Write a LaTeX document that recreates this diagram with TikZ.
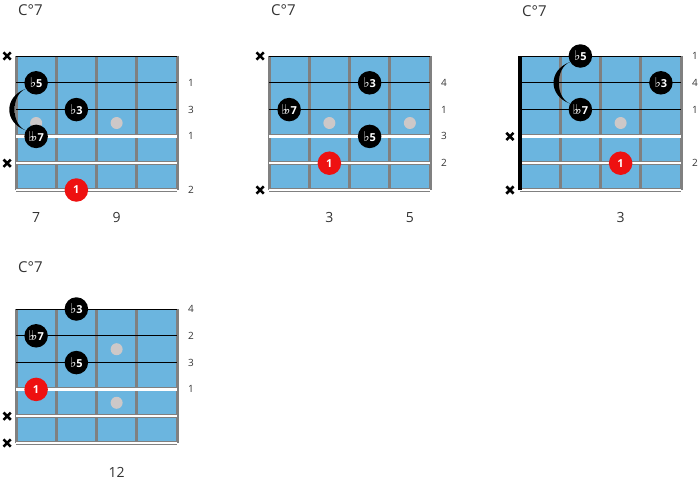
\documentclass[tikz,border=0pt]{standalone}
\usepackage{fontspec}
\setmainfont{Open Sans}
\newfontfamily\symfont{DejaVu Sans}
\definecolor{boardblue}{HTML}{6BB5DF}
\definecolor{fretgray}{HTML}{808080}
\definecolor{inlaygray}{HTML}{CDC8C8}
\definecolor{rootred}{HTML}{EE1111}
\definecolor{labelgray}{HTML}{333333}
\newcommand{\fl}{{\symfont\bfseries\fontsize{13.5}{13.5}\selectfont\char"266D}}
\newcommand{\dfl}{\fl\kern-3.6pt\fl}
\tikzset{
 fretline/.style={draw=fretgray,line width=3pt},
 thinstring/.style={draw=black,line width=1.2pt},
 tone/.style={circle,fill=black,text=white,minimum size=23.5pt,inner sep=0pt,
  font=\bfseries\fontsize{11}{11}\selectfont},
 root/.style={tone,fill=rootred},
 inlay/.style={circle,fill=inlaygray,minimum size=12pt,inner sep=0pt},
 fingernum/.style={text=labelgray,font=\fontsize{10}{10}\selectfont},
 fretnum/.style={text=labelgray,font=\fontsize{14}{14}\selectfont},
 chordname/.style={anchor=west,inner sep=0pt,text=labelgray,font=\fontsize{15}{15}\selectfont},
 pics/muted/.style={code={
  \draw[line width=2.6pt] (-3.6pt,-3.6pt) -- (3.6pt,3.6pt) (-3.6pt,3.6pt) -- (3.6pt,-3.6pt);}}
}
% board of 4 frets and 6 strings, in grid units
\newcommand{\fretboard}{%
 \fill[boardblue] (0,0) rectangle (4,5);
 \foreach \f in {0,...,4} \draw[fretline] (\f,0) -- (\f,5);
 \draw[line width=0.6pt] (0,0) -- (4,0);
 \foreach \s in {1,2} \draw[thinstring] (0,\s) -- (4,\s);
 \foreach \s in {3,4,5} {
  \draw[fretgray,line width=4pt] (0,\s) -- (4,\s);
  \draw[white,line width=2.4pt] (0,\s) -- (4,\s);}
}
\newcommand{\barre}[2]{%
 \fill (#1.210) .. controls ([xshift=-22pt,yshift=-8pt]#1.210) and ([xshift=-22pt,yshift=8pt]#2.150) .. (#2.150)
  .. controls ([xshift=-15pt,yshift=6pt]#2.150) and ([xshift=-15pt,yshift=-6pt]#1.210) .. cycle;}
\begin{document}
\begin{tikzpicture}[x=1pt,y=-1pt]
 \useasboundingbox (0,0) rectangle (700,488);
 % first shape
 \begin{scope}[shift={(16,56)},x=40.25pt,y=-26.8pt]
  \fretboard
  \node[inlay] (d1i1) at (0.5,2.5) {};
  \node[inlay] (d1i2) at (2.5,2.5) {};
  \node[tone] (d1b5) at (0.5,1) {\fl5};
  \node[tone] (d1b3) at (1.5,2) {\fl3};
  \node[tone] (d1bb7) at (0.5,3) {\dfl7};
  \node[root] (d1r) at (1.5,5) {1};
  \barre{d1b5}{d1bb7}
  \pic at (-0.22,0) {muted};
  \pic at (-0.22,4) {muted};
  \foreach \s/\n in {1/1,2/3,3/1,5/2} \node[fingernum] at (4.35,\s) {\n};
  \node[fretnum] (d1f7) at (0.5,6.04) {7};
  \node[fretnum] (d1f9) at (2.5,6.04) {9};
  \node[chordname] (d1name) at (0.05,-1.7) {C°7};
 \end{scope}
 % second shape
 \begin{scope}[shift={(269,56)},x=40.25pt,y=-26.8pt]
  \fretboard
  \node[inlay] (d2i1) at (1.5,2.5) {};
  \node[inlay] (d2i2) at (3.5,2.5) {};
  \node[tone] (d2b3) at (2.5,1) {\fl3};
  \node[tone] (d2bb7) at (0.5,2) {\dfl7};
  \node[tone] (d2b5) at (2.5,3) {\fl5};
  \node[root] (d2r) at (1.5,4) {1};
  \pic at (-0.22,0) {muted};
  \pic at (-0.22,5) {muted};
  \foreach \s/\n in {1/4,2/1,3/3,4/2} \node[fingernum] at (4.35,\s) {\n};
  \node[fretnum] (d2f3) at (1.5,6.04) {3};
  \node[fretnum] (d2f5) at (3.5,6.04) {5};
  \node[chordname] (d2name) at (0.05,-1.7) {C°7};
 \end{scope}
 % third shape, open position
 \begin{scope}[shift={(520,56)},x=40.25pt,y=-26.8pt]
  \fretboard
  \draw[line width=3.6pt] (0,0) -- (0,5);
  \node[inlay] (d3i1) at (2.5,2.5) {};
  \node[tone] (d3b5) at (1.5,0) {\fl5};
  \node[tone] (d3b3) at (3.5,1) {\fl3};
  \node[tone] (d3bb7) at (1.5,2) {\dfl7};
  \node[root] (d3r) at (2.5,4) {1};
  \barre{d3b5}{d3bb7}
  \pic at (-0.25,3) {muted};
  \pic at (-0.25,5) {muted};
  \foreach \s/\n in {0/1,1/4,2/1,4/2} \node[fingernum] at (4.35,\s) {\n};
  \node[fretnum] (d3f3) at (2.5,6.04) {3};
  \node[chordname] (d3name) at (0.05,-1.66) {C°7};
 \end{scope}
 % fourth shape
 \begin{scope}[shift={(16,309)},x=40.25pt,y=-26.8pt]
  \fretboard
  \node[inlay] (d4i1) at (2.5,1.5) {};
  \node[inlay] (d4i2) at (2.5,3.5) {};
  \node[tone] (d4b3) at (1.5,0) {\fl3};
  \node[tone] (d4bb7) at (0.5,1) {\dfl7};
  \node[tone] (d4b5) at (1.5,2) {\fl5};
  \node[root] (d4r) at (0.5,3) {1};
  \pic at (-0.22,4) {muted};
  \pic at (-0.22,5) {muted};
  \foreach \s/\n in {0/4,1/2,2/3,3/1} \node[fingernum] at (4.35,\s) {\n};
  \node[fretnum] (d4f12) at (2.5,6.08) {12};
  \node[chordname] (d4name) at (0.05,-1.57) {C°7};
 \end{scope}
\end{tikzpicture}
\end{document}
